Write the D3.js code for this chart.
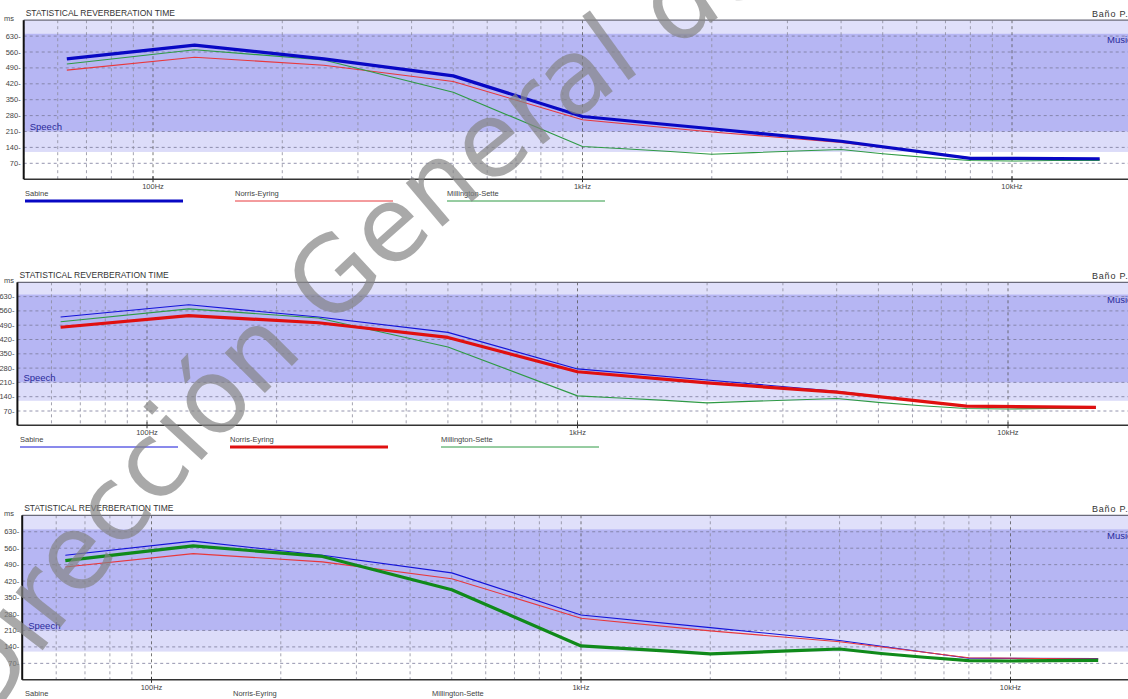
<!DOCTYPE html>
<html>
<head>
<meta charset="utf-8">
<title>Statistical reverberation time</title>
<style>
  body { margin: 0; background: #fff; }
  svg { display: block; font-family: "Liberation Sans", Arial, sans-serif; }
  .small { font-size: 7.5px; fill: #444; }
  .title { font-size: 8.5px; fill: #333; }
  .room { font-size: 9px; fill: #333; letter-spacing: 0.8px; }
  .band-label { font-size: 9.5px; fill: #2a2a9a; }
</style>
</head>
<body>
<svg id="chart" width="1128" height="699"></svg>
<script src="https://cdnjs.cloudflare.com/ajax/libs/d3/7.8.5/d3.min.js"></script>
<script>

// octave band values (ms)
var octFreqs = [63, 125, 250, 500, 1000, 2000, 4000, 8000, 16000];
var sabine = [530, 590, 530, 455, 276, 222, 167, 92, 90];
var norrisEyring = [480, 537, 502, 430, 262, 208, 162, 94, 88];

// millington has visible third-octave steps above 1k
var millFreqs = [63, 125, 250, 500, 1000, 1250, 1600, 2000, 2500, 3150, 4000, 5000, 6300, 8000, 10000, 12500, 16000];
var millingtonSette = [507, 570, 525, 383, 144, 134, 122, 110, 117, 124, 131, 112, 96, 82, 80, 82, 83];

var yTicks = [70, 140, 210, 280, 350, 420, 490, 560, 630];
var xLabels = [[100, "100Hz"], [1000, "1kHz"], [10000, "10kHz"]];
var speechBand = [120, 640];
var musicBand = [210, 700];

var seriesNames = ["Sabine", "Norris-Eyring", "Millington-Sette"];
var seriesColors = ["#1414d8", "#e8383c", "#2f9a45"];
var boldColors = ["#0808c4", "#e01010", "#108a1a"];

var panels = [
  { zeroY: 179.2, topY: 20.2, x100: 153, x10k: 1012, bold: 0, legendY: 201, legendX: [25, 235, 447] },
  { zeroY: 425.3, topY: 282.3, x100: 147, x10k: 1008, bold: 1, legendY: 447, legendX: [20, 230, 441] },
  { zeroY: 679.8, topY: 515.3, x100: 151.5, x10k: 1010.5, bold: 2, legendY: 701, legendX: [25, 233, 432] }
];

var svg = d3.select("#chart");
svg.append("rect").attr("width", 1128).attr("height", 699).attr("fill", "#fff");

var seriesData = [
  octFreqs.map(function(f, i) { return [f, sabine[i]]; }),
  octFreqs.map(function(f, i) { return [f, norrisEyring[i]]; }),
  millFreqs.map(function(f, i) { return [f, millingtonSette[i]]; })
];

var gridFreqs = [];
[10, 100, 1000, 10000].forEach(function(dec) {
  for (var k = 1; k <= 9; k++) {
    var f = dec * k;
    if (f >= 50 && f <= 20000) gridFreqs.push(f);
  }
});

panels.forEach(function(p, pi) {
  var x = d3.scaleLog().domain([100, 10000]).range([p.x100, p.x10k]);
  var y = d3.scaleLinear().domain([0, 700]).range([p.zeroY, p.topY]);
  var left = x(50), right = 1140, top = y(700), bottom = y(0);

  var g = svg.append("g");
  var clipId = "clip" + pi;
  g.append("clipPath").attr("id", clipId)
    .append("rect").attr("x", left).attr("y", top).attr("width", right - left).attr("height", bottom - top);
  var plot = g.append("g").attr("clip-path", "url(#" + clipId + ")");

  // bands
  plot.append("rect").attr("x", left).attr("width", right - left)
    .attr("y", y(musicBand[1])).attr("height", y(musicBand[0]) - y(musicBand[1])).attr("fill", "#e0e0fa");
  plot.append("rect").attr("x", left).attr("width", right - left)
    .attr("y", y(speechBand[1])).attr("height", y(speechBand[0]) - y(speechBand[1])).attr("fill", "#dcdcf9");
  plot.append("rect").attr("x", left).attr("width", right - left)
    .attr("y", y(speechBand[1])).attr("height", y(musicBand[0]) - y(speechBand[1])).attr("fill", "#b6b6f3");

  // grid
  plot.selectAll(".hgrid").data(yTicks).enter().append("line")
    .attr("x1", left).attr("x2", right)
    .attr("y1", function(d) { return y(d); }).attr("y2", function(d) { return y(d); })
    .attr("stroke", "#7a7a9a").attr("stroke-width", 0.8).attr("stroke-dasharray", "3,3");
  plot.selectAll(".vgrid").data(gridFreqs).enter().append("line")
    .attr("x1", function(d) { return x(d); }).attr("x2", function(d) { return x(d); })
    .attr("y1", top).attr("y2", bottom)
    .attr("stroke", function(d) { return [100, 1000, 10000].indexOf(d) >= 0 ? "#555" : "#8c8c9c"; })
    .attr("stroke-width", 0.8).attr("stroke-dasharray", "3,3");

  // band labels
  g.append("text").attr("class", "band-label").attr("x", left + 6).attr("y", y(215)).text("Speech");
  g.append("text").attr("class", "band-label").attr("x", 1107).attr("y", y(600)).text("Music");

  // series (bold one drawn last)
  var line = d3.line().x(function(d) { return x(d[0]); }).y(function(d) { return y(d[1]); });
  var order = [0, 1, 2].filter(function(i) { return i !== p.bold; }).concat([p.bold]);
  order.forEach(function(si) {
    var isBold = si === p.bold;
    plot.append("path").datum(seriesData[si])
      .attr("d", line).attr("fill", "none")
      .attr("stroke", isBold ? boldColors[si] : seriesColors[si])
      .attr("stroke-width", isBold ? 3.2 : 1.1)
      .attr("stroke-linejoin", "round");
  });

  // frame
  g.append("line").attr("x1", left).attr("x2", right).attr("y1", top).attr("y2", top)
    .attr("stroke", "#6a6a7a").attr("stroke-width", 1.2);
  g.append("line").attr("x1", left).attr("x2", right).attr("y1", bottom).attr("y2", bottom)
    .attr("stroke", "#333").attr("stroke-width", 1.4);
  g.append("line").attr("x1", left).attr("x2", left).attr("y1", top).attr("y2", bottom)
    .attr("stroke", "#111").attr("stroke-width", 2);

  // y axis labels
  g.selectAll(".ylab").data(yTicks).enter().append("text")
    .attr("class", "small").attr("x", left - 3).attr("y", function(d) { return y(d) + 2.5; })
    .attr("text-anchor", "end").text(function(d) { return d + "-"; });
  g.append("text").attr("class", "small").attr("x", 4).attr("y", top + 1).text("ms");

  // x axis labels
  xLabels.forEach(function(xl) {
    g.append("line").attr("x1", x(xl[0])).attr("x2", x(xl[0])).attr("y1", bottom - 3).attr("y2", bottom + 3)
      .attr("stroke", "#333").attr("stroke-width", 1);
    g.append("text").attr("class", "small").attr("x", x(xl[0])).attr("y", bottom + 10)
      .attr("text-anchor", "middle").text(xl[1]);
  });

  // title and room name
  g.append("text").attr("class", "title").attr("x", left + 2).attr("y", top - 4).text("STATISTICAL REVERBERATION TIME");
  g.append("text").attr("class", "room").attr("x", 1092).attr("y", top - 3).text("Baño P.A.");

  // legend
  seriesNames.forEach(function(name, si) {
    var lx = p.legendX[si], isBold = si === p.bold;
    g.append("text").attr("class", "small").attr("x", lx).attr("y", p.legendY - 5).text(name);
    g.append("line").attr("x1", lx).attr("x2", lx + 158).attr("y1", p.legendY).attr("y2", p.legendY)
      .attr("stroke", isBold ? boldColors[si] : seriesColors[si])
      .attr("stroke-width", isBold ? 3 : 1);
  });
});

// watermark text along a wide arc
var arc = d3.path();
arc.arc(2270, 2352, 2803, -155 * Math.PI / 180, -100 * Math.PI / 180, false);
svg.append("defs").append("path").attr("id", "wmPath").attr("d", arc.toString());
svg.append("text")
  .attr("font-family", "DejaVu Sans, sans-serif")
  .attr("font-size", 104).attr("fill", "#858585").attr("fill-opacity", 0.7)
  .append("textPath").attr("href", "#wmPath").attr("startOffset", 516)
  .text("Dirección General de Bibliotecas");

</script>
</body>
</html>
